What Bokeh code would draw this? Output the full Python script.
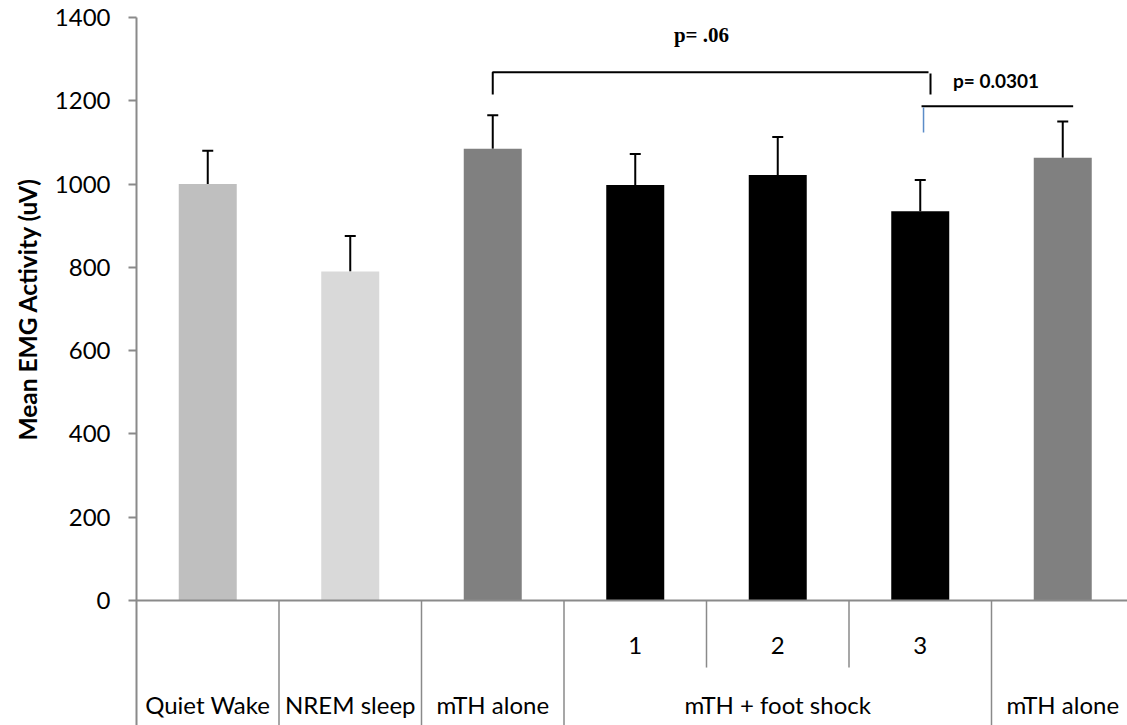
from bokeh.plotting import figure
from bokeh.models import Range1d, FixedTicker, Whisker, TeeHead, ColumnDataSource, Title
from bokeh.core.properties import value
from bokeh.embed import file_html
from bokeh.resources import INLINE

# ---- data ----
groups = ["Quiet Wake", "NREM sleep", "mTH alone", "mTH + foot shock", "mTH alone"]
group_spans = [1, 1, 1, 3, 1]
sub_labels = ["", "", "", "1", "2", "3", ""]
means = [1000, 790, 1085, 998, 1022, 935, 1063]
errors = [80, 85, 80, 74, 91, 75, 87]
colors = ["#bfbfbf", "#d9d9d9", "#808080", "#000000", "#000000", "#000000", "#808080"]
y_ticks = [0, 200, 400, 600, 800, 1000, 1200, 1400]
y_title = "Mean EMG Activity (uV)"
p_labels = ["p= .06", "p= 0.0301"]

AX = "#8a8a8a"
FONT = "Lato"

n = len(means)
xs = [i + 0.5 for i in range(n)]
uppers = [m + e for m, e in zip(means, errors)]

p = figure(width=1127, height=725, output_backend="svg", toolbar_location=None,
           x_range=Range1d(0, 991 / 142.5), y_range=Range1d(-300.2, 1400),
           x_axis_type=None, min_border_left=136, min_border_right=0,
           min_border_top=17, min_border_bottom=0)
p.outline_line_color = None
p.grid.visible = False
p.background_fill_color = "white"

yax = p.yaxis[0]
yax.ticker = FixedTicker(ticks=y_ticks)
yax.axis_line_color = AX
yax.axis_line_width = 2
yax.major_tick_line_color = AX
yax.major_tick_line_width = 2
yax.major_tick_out = 8
yax.major_tick_in = 0
yax.minor_tick_line_color = None
yax.major_label_text_font = FONT
yax.major_label_text_font_size = "24px"
yax.major_label_text_color = "black"
yax.major_label_standoff = 18

# y-axis title (centred on the 0-1400 part of the axis)
p.add_layout(Title(text=y_title, align="right", offset=160, standoff=19,
                   text_font=FONT, text_font_style="bold", text_font_size="24.5px",
                   text_color="black"), "left")

# bars
src = ColumnDataSource(dict(x=xs, top=means, upper=uppers, color=colors))
p.vbar(x="x", top="top", bottom=0, width=0.407, fill_color="color", line_color=None, source=src)
p.add_layout(Whisker(source=src, base="x", upper="upper", lower="top",
                     line_color="black", line_width=2, lower_head=None,
                     upper_head=TeeHead(size=11, line_color="black", line_width=2)))

# x-axis table lines
p.segment(x0=[0], y0=[0], x1=[991 / 142.5], y1=[0], line_color=AX, line_width=2)
full_seps = []
pos = 0
for s in group_spans:
    pos += s
    full_seps.append(pos)
full_seps = full_seps[:-1]
p.segment(x0=full_seps, y0=[0] * len(full_seps), x1=full_seps, y1=[-300.2] * len(full_seps),
          line_color=AX, line_width=1.5)
inner = [i for i in range(1, n) if i not in full_seps]
p.segment(x0=inner, y0=[0] * len(inner), x1=inner, y1=[-161] * len(inner),
          line_color=AX, line_width=1.5)

# sub labels
sx = [xs[i] for i in range(n) if sub_labels[i]]
st = [s for s in sub_labels if s]
p.text(x=sx, y=[-108] * len(sx), text=st, text_font=value(FONT), text_font_size="24px",
       text_align="center", text_baseline="middle", text_color="black")

# group labels
gx = []
pos = 0
for s in group_spans:
    gx.append(pos + s / 2)
    pos += s
p.text(x=gx, y=[-250] * len(gx), text=groups, text_font=value(FONT), text_font_size="24px",
       text_align="center", text_baseline="middle", text_color="black")

# significance brackets
p.line(x=[2.5, 2.5, 5.558], y=[1215, 1268.7, 1268.7], line_color="black", line_width=2)
p.segment(x0=[5.572], y0=[1265.5], x1=[5.572], y1=[1215], line_color="black", line_width=2)
p.segment(x0=[5.509], y0=[1187], x1=[6.573], y1=[1187], line_color="black", line_width=2)
p.segment(x0=[5.523], y0=[1184], x1=[5.523], y1=[1124], line_color="#5b8cc8", line_width=1.5)
p.text(x=[3.965], y=[1359], text=[p_labels[0]], text_font=value("Liberation Serif"),
       text_font_style="bold", text_font_size="21px", text_align="center",
       text_baseline="middle", text_color="black")
p.text(x=[6.032], y=[1249], text=[p_labels[1]], text_font=value(FONT),
       text_font_style="bold", text_font_size="19px", text_align="center",
       text_baseline="middle", text_color="black")

open("out.html", "w").write(file_html(p, INLINE))
